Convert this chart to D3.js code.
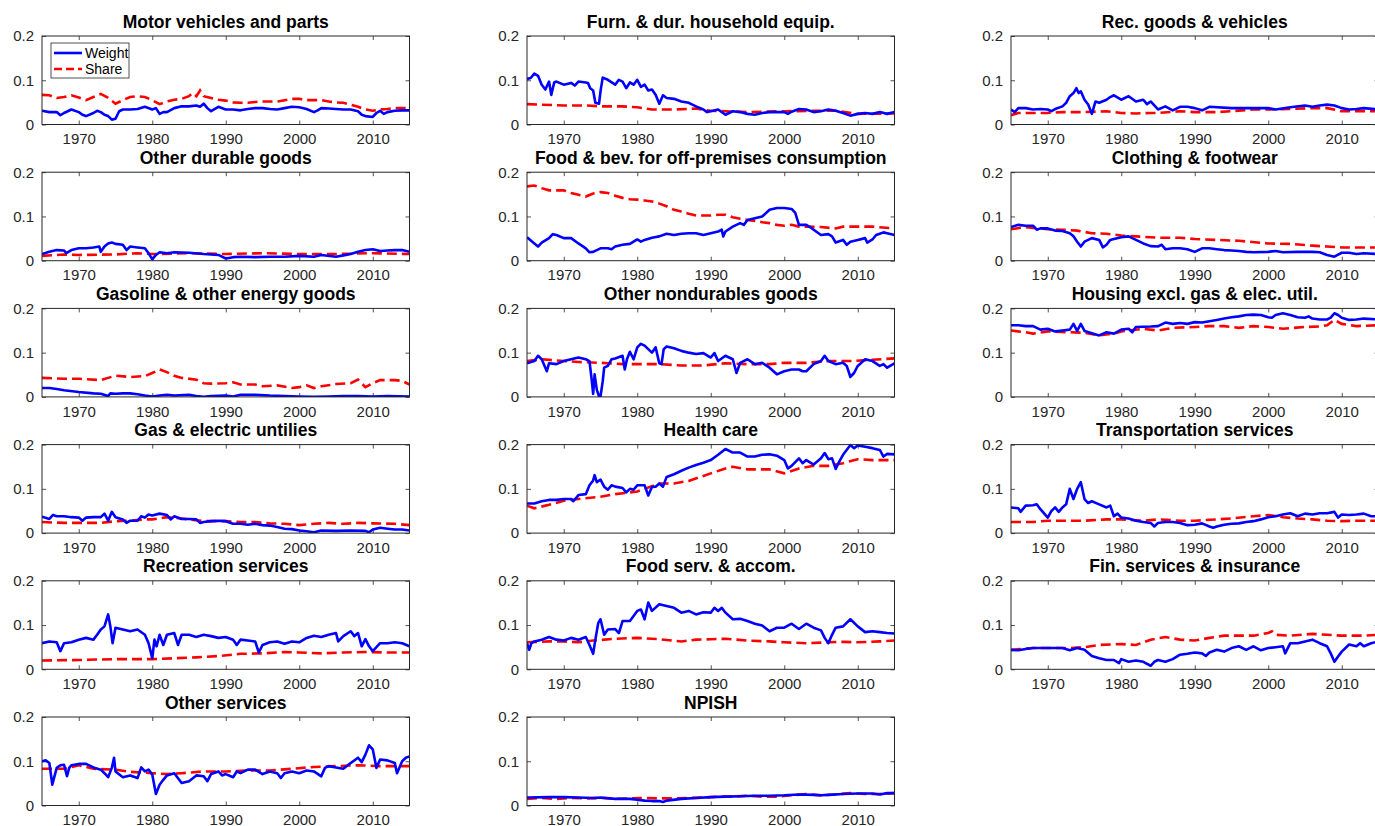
<!DOCTYPE html>
<html><head><meta charset="utf-8">
<script src="https://cdn.jsdelivr.net/npm/d3@7"></script>
<style>
html,body{margin:0;padding:0;background:#fff;}
svg{display:block;font-family:"Liberation Sans",Arial,Helvetica,sans-serif;}
</style></head><body>
<svg id="c" width="1375" height="826"></svg>
<script>
// ---------------- DATA ----------------
const titles = ["Motor vehicles and parts","Furn. & dur. household equip.","Rec. goods & vehicles",
 "Other durable goods","Food & bev. for off-premises consumption","Clothing & footwear",
 "Gasoline & other energy goods","Other nondurables goods","Housing excl. gas & elec. util.",
 "Gas & electric untilies","Health care","Transportation services",
 "Recreation services","Food serv. & accom.","Fin. services & insurance",
 "Other services","NPISH"];
const xTicks = [1970,1980,1990,2000,2010];
const yTicks = [0,0.1,0.2];
const yTickLabels = ["0","0.1","0.2"];
const seriesNames = ["Weight","Share"];

const motorW = [[1965,.031],[1966,.028],[1967,.028],[1967.5,.021],[1968,.026],[1969,.034],[1970,.028],[1970.5,.022],[1971,.019],[1972,.026],[1972.5,.031],[1973,.028],[1973.5,.022],[1974,.019],[1974.5,.011],[1975,.013],[1975.5,.030],[1976,.034],[1977,.034],[1978,.035],[1979,.040],[1980,.034],[1980.5,.037],[1981,.024],[1981.5,.028],[1982,.028],[1983,.037],[1984,.041],[1985,.041],[1986,.043],[1986.5,.040],[1987,.047],[1987.5,.037],[1988,.030],[1989,.040],[1990,.034],[1991,.034],[1992,.032],[1993,.035],[1994,.037],[1995,.037],[1996,.035],[1997,.034],[1998,.037],[1999,.040],[2000,.039],[2001,.035],[2002,.028],[2002.5,.032],[2003,.037],[2004,.036],[2005,.035],[2006,.034],[2007,.034],[2008,.030],[2008.5,.022],[2009,.019],[2010,.017],[2010.5,.026],[2011,.031],[2011.5,.024],[2012,.028],[2013,.031],[2014,.032],[2015,.032]];
const motorS = [[1965,.067],[1966,.066],[1967,.060],[1968,.062],[1969,.066],[1970,.061],[1971,.055],[1972,.062],[1973,.069],[1974,.060],[1975,.047],[1976,.055],[1977,.062],[1978,.064],[1979,.062],[1980,.055],[1981,.046],[1982,.052],[1983,.056],[1984,.058],[1985,.064],[1985.5,.071],[1986,.064],[1986.5,.077],[1987,.064],[1988,.060],[1989,.056],[1990,.054],[1991,.050],[1992,.049],[1993,.049],[1994,.051],[1995,.052],[1996,.052],[1997,.052],[1998,.055],[1999,.058],[2000,.058],[2001,.055],[2002,.055],[2003,.055],[2004,.052],[2005,.050],[2006,.049],[2007,.045],[2008,.040],[2009,.034],[2010,.031],[2011,.034],[2012,.035],[2013,.037],[2014,.037],[2015,.037]];

const furnW = [[1965,.103],[1965.5,.105],[1966,.115],[1966.5,.110],[1967,.090],[1967.5,.079],[1968,.097],[1968.3,.067],[1968.7,.095],[1969,.097],[1970,.090],[1971,.094],[1971.5,.088],[1972,.097],[1973,.095],[1973.3,.094],[1973.6,.082],[1974,.077],[1974.3,.049],[1974.8,.047],[1975,.075],[1975.3,.106],[1976,.101],[1977,.090],[1977.5,.101],[1978,.097],[1978.5,.082],[1979,.095],[1979.5,.090],[1980,.101],[1980.5,.085],[1981,.090],[1981.5,.077],[1982,.079],[1982.5,.067],[1983,.047],[1983.5,.066],[1984,.060],[1985,.058],[1986,.052],[1987,.049],[1988,.041],[1989,.034],[1989.5,.028],[1990,.030],[1991,.034],[1992,.022],[1993,.030],[1994,.028],[1995,.024],[1996,.022],[1997,.026],[1998,.028],[1999,.028],[2000,.028],[2000.5,.024],[2001,.029],[2002,.035],[2003,.034],[2004,.028],[2005,.030],[2006,.034],[2007,.031],[2008,.026],[2009,.020],[2010,.024],[2011,.026],[2012,.024],[2013,.028],[2014,.024],[2015,.028]];
const furnS = [[1965,.046],[1970,.043],[1973,.043],[1975,.041],[1978,.041],[1980,.039],[1982,.034],[1985,.034],[1988,.036],[1990,.031],[1992,.030],[1995,.028],[2000,.030],[2005,.031],[2007,.031],[2010,.024],[2015,.025]];

const recGW = [[1965,.034],[1965.5,.028],[1966,.037],[1967,.037],[1968,.034],[1969,.035],[1970,.034],[1970.5,.030],[1971,.035],[1972,.041],[1972.5,.049],[1973,.064],[1973.5,.071],[1973.9,.082],[1974.2,.071],[1974.5,.075],[1975,.056],[1975.5,.045],[1976,.024],[1976.5,.052],[1977,.049],[1978,.056],[1978.5,.062],[1979,.066],[1980,.056],[1981,.064],[1982,.052],[1983,.056],[1983.5,.046],[1984,.052],[1985,.034],[1986,.041],[1987,.032],[1988,.040],[1989,.040],[1990,.037],[1991,.032],[1992,.040],[1995,.037],[1998,.037],[2000,.037],[2001,.034],[2003,.039],[2005,.043],[2006,.040],[2007,.043],[2008,.045],[2009,.043],[2010,.037],[2011,.034],[2012,.035],[2013,.037],[2015,.034]];
const recGS = [[1965,.021],[1966,.026],[1970,.026],[1972,.028],[1975,.028],[1978,.030],[1980,.026],[1982,.025],[1984,.026],[1985,.026],[1988,.030],[1990,.028],[1993,.028],[1995,.030],[1998,.034],[2000,.034],[2003,.035],[2006,.037],[2008,.037],[2010,.030],[2013,.030],[2015,.030]];

const othDurW = [[1965,.015],[1966,.020],[1967,.024],[1968,.023],[1968.3,.017],[1969,.024],[1970,.028],[1971,.028],[1972,.030],[1972.8,.032],[1973,.020],[1973.5,.032],[1974,.039],[1974.5,.041],[1975,.038],[1976,.036],[1976.5,.024],[1977,.032],[1978,.030],[1979,.028],[1979.5,.017],[1980,.003],[1980.5,.013],[1981,.019],[1982,.017],[1983,.019],[1985,.018],[1987,.015],[1989,.013],[1990,.005],[1991,.008],[1992,.009],[1994,.008],[1996,.009],[1998,.009],[2000,.011],[2002,.009],[2003,.013],[2005,.009],[2006,.012],[2007,.015],[2008,.020],[2009,.024],[2010,.026],[2011,.022],[2012,.023],[2013,.024],[2014,.024],[2015,.020]];
const othDurS = [[1965,.011],[1968,.014],[1970,.013],[1975,.014],[1978,.017],[1980,.015],[1985,.017],[1990,.015],[1995,.017],[2000,.015],[2005,.015],[2010,.017],[2015,.015]];

const foodW = [[1965,.053],[1966,.039],[1966.5,.032],[1967,.041],[1968,.051],[1968.5,.060],[1969,.058],[1970,.051],[1971,.051],[1972,.039],[1973,.028],[1973.5,.019],[1974,.020],[1975,.028],[1976,.028],[1976.5,.026],[1977,.032],[1978,.036],[1979,.038],[1980,.048],[1980.5,.043],[1981,.047],[1982,.052],[1983,.055],[1984,.061],[1985,.058],[1986,.061],[1987,.062],[1988,.062],[1989,.058],[1990,.062],[1991,.066],[1991.5,.070],[1991.7,.055],[1992,.066],[1993,.077],[1994,.085],[1994.5,.081],[1995,.092],[1996,.096],[1997,.100],[1998,.115],[1999,.119],[2000,.119],[2001,.117],[2001.5,.108],[2002,.081],[2003,.081],[2003.5,.076],[2004,.070],[2005,.058],[2006,.060],[2006.5,.055],[2007,.041],[2008,.047],[2008.5,.036],[2009,.043],[2010,.047],[2011,.051],[2011.3,.041],[2012,.048],[2012.5,.058],[2013,.061],[2013.5,.064],[2014,.062],[2015,.058]];
const foodS = [[1965,.168],[1966,.170],[1967,.164],[1968,.159],[1970,.159],[1971,.153],[1972,.149],[1973,.145],[1974,.152],[1975,.155],[1976,.153],[1977,.147],[1978,.142],[1979,.139],[1980,.138],[1981,.136],[1982,.134],[1983,.129],[1984,.123],[1985,.115],[1986,.111],[1987,.106],[1988,.102],[1989,.102],[1990,.102],[1991,.104],[1992,.104],[1993,.098],[1994,.095],[1995,.092],[1996,.090],[1997,.087],[1998,.085],[1999,.081],[2000,.079],[2001,.081],[2002,.077],[2003,.077],[2005,.076],[2007,.073],[2008,.077],[2010,.077],[2012,.077],[2015,.073]];

const clothW = [[1965,.076],[1966,.081],[1967,.079],[1968,.079],[1968.5,.070],[1969,.073],[1970,.073],[1971,.068],[1972,.067],[1973,.062],[1973.5,.055],[1974,.043],[1974.5,.032],[1975,.043],[1976,.051],[1977,.047],[1977.5,.030],[1978,.036],[1978.5,.047],[1979,.049],[1980,.053],[1981,.055],[1982,.047],[1983,.039],[1984,.033],[1985,.032],[1985.5,.036],[1986,.026],[1987,.028],[1988,.028],[1989,.026],[1990,.020],[1991,.028],[1992,.028],[1993,.026],[1994,.024],[1995,.023],[1996,.022],[1997,.020],[1998,.019],[2000,.020],[2001,.022],[2002,.019],[2004,.020],[2006,.020],[2007,.019],[2008,.013],[2009,.009],[2010,.018],[2011,.018],[2012,.015],[2013,.017],[2015,.015]];
const clothS = [[1965,.071],[1967,.076],[1970,.071],[1972,.070],[1974,.068],[1976,.062],[1978,.061],[1980,.057],[1982,.055],[1985,.052],[1988,.052],[1990,.049],[1993,.047],[1996,.045],[2000,.039],[2003,.038],[2006,.034],[2008,.032],[2010,.030],[2015,.030]];

const gasW = [[1965,.020],[1966,.020],[1967,.018],[1968,.015],[1970,.011],[1972,.008],[1973,.007],[1974,.002],[1974.3,.008],[1975,.007],[1976,.008],[1977,.008],[1978,.006],[1979,.003],[1980,.001],[1981,.003],[1982,.005],[1983,.003],[1985,.005],[1986,.002],[1987,.000],[1988,.002],[1990,.003],[1991,.001],[1992,.005],[1994,.005],[1996,.003],[1998,.002],[2000,.001],[2002,.000],[2004,.001],[2006,.002],[2008,.002],[2010,.001],[2012,.002],[2015,.001]];
const gasS = [[1965,.043],[1968,.041],[1970,.041],[1973,.038],[1974,.043],[1975,.048],[1977,.045],[1979,.047],[1980,.054],[1981,.062],[1982,.056],[1983,.048],[1984,.043],[1986,.039],[1987,.031],[1988,.030],[1990,.031],[1991,.033],[1992,.028],[1994,.028],[1995,.024],[1997,.026],[1999,.020],[2000,.022],[2001,.026],[2002,.020],[2003,.024],[2005,.029],[2007,.031],[2008,.039],[2009,.022],[2010,.031],[2011,.038],[2013,.038],[2014,.036],[2015,.028]];

const othNdW = [[1965,.076],[1966,.081],[1966.5,.093],[1967,.085],[1967.7,.058],[1968,.076],[1969,.074],[1970,.081],[1971,.085],[1972,.089],[1973,.085],[1973.5,.081],[1973.8,.039],[1974,.007],[1974.2,.051],[1974.5,.016],[1974.8,.001],[1975,.001],[1975.3,.035],[1975.5,.066],[1976,.070],[1976.5,.085],[1977,.087],[1978,.093],[1978.3,.062],[1978.6,.085],[1979,.102],[1979.5,.085],[1980,.112],[1980.5,.120],[1981,.116],[1982,.100],[1982.5,.112],[1983,.076],[1983.3,.074],[1983.6,.108],[1984,.114],[1985,.110],[1986,.104],[1987,.100],[1988,.097],[1989,.099],[1990,.089],[1990.5,.099],[1991,.081],[1992,.093],[1993,.085],[1993.5,.054],[1994,.077],[1995,.085],[1996,.074],[1997,.077],[1998,.066],[1999,.051],[2000,.058],[2001,.062],[2002,.062],[2002.5,.058],[2003,.058],[2004,.074],[2005,.081],[2005.5,.093],[2006,.081],[2007,.074],[2008,.077],[2008.5,.070],[2009,.045],[2009.5,.054],[2010,.070],[2011,.085],[2012,.081],[2013,.070],[2013.5,.074],[2014,.066],[2015,.076]];
const othNdS = [[1965,.081],[1967,.085],[1970,.081],[1972,.079],[1975,.077],[1978,.074],[1980,.074],[1983,.074],[1986,.071],[1989,.071],[1992,.076],[1995,.074],[1998,.074],[2000,.077],[2003,.077],[2006,.081],[2009,.081],[2012,.084],[2015,.087]];

const housW = [[1965,.162],[1966,.162],[1967,.160],[1968,.160],[1969,.152],[1970,.154],[1971,.148],[1972,.150],[1973,.152],[1973.5,.165],[1974,.149],[1974.5,.165],[1975,.149],[1976,.144],[1977,.139],[1978,.146],[1979,.143],[1980,.152],[1981,.154],[1981.5,.146],[1982,.158],[1984,.159],[1985,.160],[1986,.168],[1987,.165],[1988,.167],[1989,.165],[1990,.169],[1991,.168],[1992,.171],[1993,.174],[1994,.177],[1995,.180],[1996,.182],[1997,.185],[1998,.186],[1999,.185],[2000,.180],[2000.5,.179],[2001,.185],[2002,.189],[2003,.185],[2004,.180],[2005,.179],[2005.5,.182],[2006,.177],[2007,.175],[2008,.175],[2008.5,.179],[2009,.189],[2009.5,.185],[2010,.179],[2011,.174],[2012,.175],[2013,.177],[2015,.175]];
const housS = [[1965,.150],[1967,.146],[1968,.143],[1970,.148],[1973,.146],[1975,.145],[1977,.139],[1979,.143],[1980,.148],[1983,.154],[1985,.150],[1987,.156],[1990,.158],[1992,.160],[1994,.160],[1996,.156],[1998,.160],[2000,.158],[2002,.154],[2005,.158],[2007,.159],[2008,.162],[2009,.174],[2010,.165],[2012,.160],[2015,.162]];

const utilW = [[1965,.037],[1966,.032],[1966.5,.041],[1967,.038],[1968,.038],[1969,.036],[1970,.035],[1970.5,.028],[1971,.035],[1972,.036],[1973,.036],[1973.5,.044],[1974,.028],[1974.5,.048],[1975,.036],[1976,.031],[1976.5,.023],[1977,.028],[1978,.028],[1978.5,.038],[1979,.035],[1979.5,.042],[1980,.040],[1981,.044],[1982,.041],[1982.5,.031],[1983,.038],[1984,.032],[1985,.032],[1986,.031],[1986.5,.023],[1987,.025],[1988,.027],[1989,.028],[1990,.027],[1991,.021],[1992,.021],[1993,.019],[1994,.021],[1995,.018],[1996,.017],[1997,.014],[1998,.010],[1999,.009],[2000,.006],[2001,.004],[2002,.002],[2003,.006],[2005,.005],[2007,.006],[2009,.005],[2009.5,.002],[2010,.008],[2011,.012],[2012,.010],[2013,.008],[2014,.008],[2015,.006]];
const utilS = [[1965,.025],[1968,.023],[1970,.023],[1973,.023],[1975,.027],[1977,.028],[1979,.031],[1980,.031],[1982,.036],[1984,.033],[1985,.031],[1987,.027],[1990,.027],[1992,.025],[1994,.025],[1996,.022],[1998,.021],[2000,.018],[2002,.021],[2004,.023],[2006,.021],[2008,.023],[2010,.022],[2013,.021],[2015,.018]];

const healthW = [[1965,.067],[1966,.067],[1967,.072],[1968,.075],[1969,.075],[1970,.077],[1971,.077],[1971.3,.072],[1972,.086],[1973,.088],[1973.5,.108],[1974,.119],[1974.2,.131],[1974.5,.115],[1975,.121],[1975.5,.105],[1976,.098],[1976.5,.108],[1977,.105],[1978,.102],[1978.5,.092],[1979,.100],[1979.5,.098],[1980,.108],[1981,.108],[1981.5,.085],[1982,.104],[1982.5,.105],[1983,.112],[1983.5,.105],[1984,.127],[1985,.133],[1986,.141],[1987,.148],[1988,.154],[1989,.159],[1990,.165],[1991,.177],[1992,.190],[1993,.182],[1994,.182],[1995,.173],[1996,.173],[1997,.177],[1998,.178],[1999,.175],[2000,.165],[2000.5,.146],[2001,.152],[2002,.169],[2002.5,.158],[2003,.165],[2004,.155],[2005,.169],[2005.5,.181],[2006,.167],[2006.5,.169],[2007,.145],[2007.5,.162],[2008,.177],[2009,.199],[2009.5,.192],[2010,.198],[2011,.195],[2012,.192],[2013,.188],[2013.5,.173],[2014,.179],[2015,.178]];
const healthS = [[1965,.062],[1966,.056],[1968,.064],[1970,.073],[1972,.077],[1975,.082],[1977,.088],[1980,.094],[1983,.112],[1985,.112],[1987,.118],[1990,.135],[1992,.146],[1993,.150],[1995,.144],[1998,.144],[2000,.135],[2002,.146],[2004,.152],[2006,.152],[2008,.158],[2010,.167],[2012,.165],[2015,.165]];

const transW = [[1965,.058],[1966,.056],[1966.3,.048],[1967,.062],[1968,.063],[1968.5,.065],[1969,.054],[1970,.035],[1970.5,.050],[1971,.058],[1971.5,.048],[1972,.058],[1972.5,.065],[1973,.100],[1973.5,.077],[1974,.100],[1974.5,.115],[1975,.077],[1975.5,.068],[1976,.072],[1977,.065],[1978,.058],[1978.5,.062],[1979,.038],[1979.5,.044],[1980,.035],[1981,.033],[1982,.028],[1983,.025],[1984,.023],[1984.5,.015],[1985,.023],[1986,.025],[1987,.025],[1988,.023],[1989,.018],[1990,.019],[1991,.022],[1992,.015],[1992.5,.012],[1993,.015],[1994,.019],[1995,.021],[1996,.022],[1997,.025],[1998,.027],[1999,.031],[2000,.036],[2001,.038],[2002,.042],[2003,.045],[2004,.038],[2005,.044],[2006,.042],[2007,.045],[2008,.045],[2009,.048],[2009.5,.035],[2010,.042],[2011,.041],[2012,.042],[2013,.044],[2014,.038],[2015,.038]];
const transS = [[1965,.025],[1968,.025],[1970,.028],[1973,.028],[1975,.028],[1978,.031],[1980,.031],[1983,.028],[1985,.031],[1988,.028],[1990,.028],[1993,.031],[1995,.033],[1998,.038],[2000,.041],[2002,.036],[2004,.033],[2006,.031],[2008,.028],[2010,.027],[2012,.028],[2015,.028]];

const recSW = [[1965,.059],[1966,.063],[1967,.061],[1967.5,.041],[1968,.059],[1969,.061],[1970,.067],[1971,.071],[1972,.067],[1972.5,.078],[1973,.090],[1973.5,.097],[1974,.124],[1974.3,.097],[1974.6,.059],[1975,.094],[1976,.090],[1977,.086],[1978,.090],[1979,.078],[1979.5,.059],[1980,.025],[1980.3,.067],[1980.6,.052],[1981,.078],[1981.5,.055],[1982,.078],[1983,.082],[1983.5,.055],[1984,.078],[1985,.078],[1986,.073],[1987,.078],[1988,.075],[1989,.071],[1990,.073],[1991,.067],[1991.5,.055],[1992,.067],[1993,.065],[1994,.063],[1994.5,.038],[1995,.055],[1996,.061],[1997,.063],[1998,.058],[1999,.063],[2000,.061],[2001,.071],[2002,.076],[2003,.073],[2004,.078],[2005,.082],[2005.3,.063],[2006,.075],[2007,.086],[2007.5,.075],[2008,.082],[2008.5,.052],[2009,.068],[2009.5,.052],[2010,.041],[2011,.059],[2012,.059],[2013,.061],[2014,.059],[2015,.052]];
const recSS = [[1965,.020],[1970,.021],[1975,.023],[1980,.023],[1983,.025],[1986,.027],[1989,.030],[1992,.035],[1995,.036],[1998,.039],[2000,.038],[2003,.036],[2006,.038],[2009,.039],[2012,.038],[2015,.038]];

const foodSvW = [[1965,.059],[1965.3,.044],[1965.6,.059],[1966,.063],[1967,.067],[1968,.073],[1969,.067],[1970,.065],[1971,.071],[1972,.067],[1973,.073],[1973.5,.055],[1974,.035],[1974.3,.067],[1974.7,.105],[1975,.113],[1975.5,.078],[1976,.090],[1977,.091],[1977.5,.082],[1978,.109],[1979,.109],[1980,.132],[1980.5,.135],[1981,.113],[1981.5,.151],[1982,.132],[1983,.147],[1984,.143],[1985,.139],[1986,.128],[1987,.132],[1988,.124],[1989,.129],[1990,.128],[1990.5,.139],[1991,.132],[1991.5,.139],[1992,.128],[1993,.113],[1994,.114],[1995,.109],[1996,.103],[1997,.099],[1998,.086],[1999,.094],[2000,.094],[2001,.103],[2002,.091],[2003,.103],[2004,.094],[2005,.088],[2005.5,.071],[2006,.059],[2006.5,.078],[2007,.094],[2008,.097],[2009,.113],[2010,.097],[2011,.084],[2012,.086],[2013,.084],[2014,.082],[2015,.081]];
const foodSvS = [[1965,.061],[1968,.063],[1970,.063],[1972,.061],[1974,.065],[1977,.069],[1980,.071],[1983,.068],[1986,.063],[1988,.067],[1990,.068],[1992,.069],[1995,.065],[1998,.063],[2000,.061],[2003,.059],[2006,.061],[2008,.062],[2010,.061],[2013,.063],[2015,.065]];

const finW = [[1965,.044],[1966,.043],[1967,.046],[1968,.048],[1970,.048],[1972,.048],[1973,.043],[1974,.048],[1975,.044],[1976,.030],[1977,.025],[1978,.021],[1979,.021],[1979.7,.014],[1980,.023],[1981,.017],[1982,.020],[1983,.017],[1984,.008],[1984.5,.017],[1985,.021],[1986,.017],[1987,.023],[1988,.033],[1989,.035],[1990,.038],[1991,.036],[1991.5,.030],[1992,.038],[1993,.044],[1994,.040],[1995,.048],[1996,.052],[1997,.044],[1998,.052],[1999,.043],[2000,.048],[2001,.050],[2002,.052],[2002.3,.036],[2003,.059],[2004,.059],[2005,.063],[2006,.067],[2007,.059],[2008,.052],[2008.5,.036],[2009,.017],[2009.5,.029],[2010,.040],[2011,.056],[2012,.052],[2012.5,.059],[2013,.052],[2014,.059],[2015,.063]];
const finS = [[1965,.044],[1968,.048],[1970,.048],[1973,.048],[1975,.050],[1977,.055],[1980,.057],[1982,.055],[1984,.067],[1986,.073],[1988,.067],[1990,.065],[1992,.071],[1994,.076],[1996,.076],[1998,.076],[2000,.082],[2000.5,.086],[2001,.078],[2003,.076],[2006,.080],[2008,.078],[2010,.076],[2013,.076],[2015,.078]];

const othSvW = [[1965,.100],[1965.5,.102],[1966,.096],[1966.4,.047],[1967,.085],[1967.5,.091],[1968,.092],[1968.4,.066],[1968.7,.085],[1969,.091],[1970,.094],[1971,.094],[1972,.086],[1973,.081],[1973.5,.073],[1974,.064],[1974.5,.085],[1974.8,.108],[1975,.077],[1976,.064],[1977,.068],[1978,.062],[1978.5,.086],[1979,.077],[1979.5,.081],[1980,.070],[1980.5,.026],[1981,.047],[1981.5,.058],[1982,.068],[1983,.073],[1984,.051],[1985,.055],[1986,.068],[1987,.066],[1987.5,.055],[1988,.071],[1989,.077],[1989.5,.068],[1990,.071],[1991,.064],[1991.5,.077],[1992,.073],[1993,.081],[1994,.081],[1995,.071],[1996,.077],[1997,.073],[1997.5,.062],[1998,.073],[1999,.077],[2000,.073],[2001,.079],[2002,.077],[2003,.066],[2003.5,.085],[2004,.089],[2005,.086],[2006,.083],[2007,.096],[2008,.108],[2008.5,.098],[2009,.115],[2009.5,.136],[2010,.127],[2010.5,.085],[2011,.104],[2012,.102],[2013,.096],[2013.3,.073],[2014,.100],[2014.5,.108],[2015,.111]];
const othSvS = [[1965,.083],[1968,.083],[1970,.091],[1972,.083],[1975,.081],[1977,.076],[1980,.073],[1982,.071],[1984,.073],[1987,.077],[1990,.077],[1993,.079],[1996,.079],[1999,.083],[2002,.087],[2005,.089],[2008,.091],[2011,.089],[2015,.089]];

const npishW = [[1965,.018],[1968,.019],[1970,.019],[1972,.018],[1974,.017],[1975,.018],[1977,.015],[1979,.015],[1980,.013],[1981,.011],[1982,.010],[1983,.010],[1983.5,.008],[1984,.011],[1986,.015],[1988,.017],[1990,.019],[1992,.020],[1994,.021],[1996,.022],[1998,.022],[2000,.023],[2002,.025],[2004,.024],[2005,.023],[2006,.024],[2008,.026],[2010,.027],[2012,.027],[2013,.025],[2014,.028],[2015,.028]];
const npishS = [[1965,.015],[1967,.017],[1969,.015],[1971,.017],[1973,.016],[1975,.017],[1977,.015],[1979,.016],[1981,.017],[1983,.016],[1985,.016],[1987,.017],[1989,.018],[1991,.020],[1993,.020],[1995,.022],[1997,.020],[1999,.020],[2001,.023],[2003,.026],[2005,.023],[2007,.025],[2009,.028],[2011,.026],[2013,.026],[2015,.028]];

const weightSeries = [motorW,furnW,recGW,othDurW,foodW,clothW,gasW,othNdW,housW,utilW,healthW,transW,recSW,foodSvW,finW,othSvW,npishW];
const shareSeries  = [motorS,furnS,recGS,othDurS,foodS,clothS,gasS,othNdS,housS,utilS,healthS,transS,recSS,foodSvS,finS,othSvS,npishS];

// ---------------- LAYOUT ----------------
const colLeft = [42, 527, 1011];
const rowTop0 = 36, rowStep = 136.2;
const pw = 367.5, ph = 88.5;
const axisColor = "#262626";

const svg = d3.select("#c");
const x = d3.scaleLinear().domain([1965, 2015]).range([0, pw]);
const y = d3.scaleLinear().domain([0, 0.2]).range([ph, 0]);
const line = d3.line().x(d => x(d[0])).y(d => y(d[1]));

titles.forEach((t, i) => {
  const r = Math.floor(i / 3), c = i % 3;
  const g = svg.append("g").attr("transform", `translate(${colLeft[c]},${rowTop0 + r * rowStep})`);
  const clipId = "clip" + i;
  g.append("clipPath").attr("id", clipId).append("rect")
    .attr("x", 0).attr("y", -2).attr("width", pw).attr("height", ph + 2);

  // axes
  const fmtY = d => yTickLabels[yTicks.indexOf(d)];
  const ax = [
    g.append("g").attr("transform", `translate(0,${ph})`)
      .call(d3.axisBottom(x).tickValues(xTicks).tickFormat(d3.format("d")).tickSizeInner(-4).tickSizeOuter(0).tickPadding(9)),
    g.append("g")
      .call(d3.axisTop(x).tickValues(xTicks).tickFormat("").tickSizeInner(-4).tickSizeOuter(0)),
    g.append("g")
      .call(d3.axisLeft(y).tickValues(yTicks).tickFormat(fmtY).tickSizeInner(-4).tickSizeOuter(0).tickPadding(8)),
    g.append("g").attr("transform", `translate(${pw},0)`)
      .call(d3.axisRight(y).tickValues(yTicks).tickFormat("").tickSizeInner(-4).tickSizeOuter(0))
  ];
  ax.forEach(a => {
    a.select(".domain").remove();
    a.selectAll("line").attr("stroke", axisColor).attr("stroke-width", 0.8);
    a.selectAll("text").attr("fill", axisColor).style("font-size", "15px")
      .style("font-family", '"Liberation Sans",Arial,sans-serif');
  });

  // series
  g.append("path").datum(shareSeries[i]).attr("clip-path", `url(#${clipId})`)
    .attr("d", line).attr("fill", "none").attr("stroke", "#ff0000")
    .attr("stroke-width", 2.6).attr("stroke-dasharray", "10,5");
  g.append("path").datum(weightSeries[i]).attr("clip-path", `url(#${clipId})`)
    .attr("d", line).attr("fill", "none").attr("stroke", "#0000ff")
    .attr("stroke-width", 2.6).attr("stroke-linejoin", "round");

  // box
  g.append("rect").attr("x", 0).attr("y", 0).attr("width", pw).attr("height", ph)
    .attr("fill", "none").attr("stroke", axisColor).attr("stroke-width", 1);

  // title
  g.append("text").attr("x", pw / 2).attr("y", -8.5).attr("text-anchor", "middle")
    .style("font-size", "17.5px").style("font-weight", "bold").attr("fill", "#000").text(t);

  // legend only in first panel
  if (i === 0) {
    const lg = g.append("g").attr("transform", "translate(9,7)");
    lg.append("rect").attr("x", 0).attr("y", 0).attr("width", 78).attr("height", 35)
      .attr("fill", "#fff").attr("stroke", axisColor).attr("stroke-width", 0.8);
    const items = [{c:"#0000ff", dash:null}, {c:"#ff0000", dash:"8,4"}];
    items.forEach((it, k) => {
      const yy = 10 + k * 16;
      lg.append("line").attr("x1", 3).attr("x2", 31).attr("y1", yy).attr("y2", yy)
        .attr("stroke", it.c).attr("stroke-width", 2.6).attr("stroke-dasharray", it.dash);
      lg.append("text").attr("x", 34).attr("y", yy + 5).style("font-size", "14px")
        .attr("fill", "#000").text(seriesNames[k]);
    });
  }
});
</script>
</body></html>
